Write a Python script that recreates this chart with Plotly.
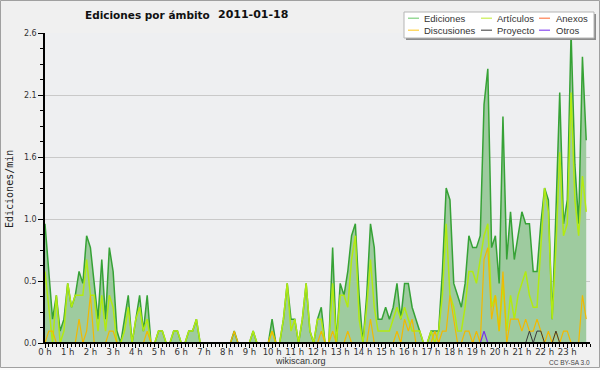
import plotly.graph_objects as go

# ---- data (10-minute steps, edits per minute) ----
minutes = list(range(0, 1440, 10))
hours = [m / 60 for m in minutes]

ediciones = [
    1.0, 0.6, 0.2, 0.4, 0.1, 0.2,   # 0 h
    0.5, 0.3, 0.4, 0.6, 0.5, 0.9,   # 1 h
    0.8, 0.5, 0.2, 0.7, 0.2, 0.8,   # 2 h
    0.6, 0.1, 0.0, 0.2, 0.4, 0.0,   # 3 h
    0.2, 0.4, 0.1, 0.4, 0.0, 0.0,   # 4 h
    0.1, 0.1, 0.0, 0.0, 0.1, 0.1,   # 5 h
    0.0, 0.0, 0.1, 0.1, 0.2, 0.0,   # 6 h
    0.0, 0.0, 0.0, 0.0, 0.0, 0.0,   # 7 h
    0.0, 0.0, 0.1, 0.0, 0.0, 0.0,   # 8 h
    0.0, 0.1, 0.0, 0.0, 0.0, 0.0,   # 9 h
    0.2, 0.0, 0.0, 0.2, 0.5, 0.2,   # 10 h
    0.2, 0.0, 0.2, 0.5, 0.1, 0.0,   # 11 h
    0.2, 0.3, 0.0, 0.0, 0.8, 0.0,   # 12 h
    0.5, 0.4, 0.6, 0.9, 1.0, 0.4,   # 13 h
    0.0, 0.4, 1.0, 0.8, 0.2, 0.2,   # 14 h
    0.3, 0.2, 0.3, 0.5, 0.2, 0.5,   # 15 h
    0.5, 0.3, 0.2, 0.1, 0.0, 0.0,   # 16 h
    0.1, 0.1, 0.1, 0.6, 1.3, 1.2,   # 17 h
    0.5, 0.4, 0.3, 0.5, 0.9, 0.8,   # 18 h
    0.8, 0.9, 2.0, 2.3, 0.8, 0.9,   # 19 h
    0.5, 1.9, 0.7, 1.1, 0.7, 0.9,   # 20 h
    1.1, 1.0, 1.0, 0.6, 0.6, 1.0,   # 21 h
    1.3, 1.2, 0.2, 1.1, 2.1, 1.0,   # 22 h
    1.2, 2.6, 1.5, 1.0, 2.4, 1.7,   # 23 h
]

articulos = [
    0.6, 0.3, 0.0, 0.4, 0.0, 0.1,
    0.5, 0.3, 0.4, 0.4, 0.4, 0.7,
    0.4, 0.4, 0.1, 0.4, 0.1, 0.4,
    0.3, 0.0, 0.0, 0.1, 0.3, 0.0,
    0.2, 0.3, 0.1, 0.2, 0.0, 0.0,
    0.1, 0.1, 0.0, 0.0, 0.1, 0.1,
    0.0, 0.0, 0.1, 0.1, 0.2, 0.0,
    0.0, 0.0, 0.0, 0.0, 0.0, 0.0,
    0.0, 0.0, 0.0, 0.0, 0.0, 0.0,
    0.0, 0.1, 0.0, 0.0, 0.0, 0.0,
    0.1, 0.0, 0.0, 0.2, 0.5, 0.1,
    0.2, 0.0, 0.2, 0.5, 0.1, 0.0,
    0.2, 0.2, 0.0, 0.0, 0.5, 0.0,
    0.4, 0.4, 0.3, 0.7, 0.9, 0.2,
    0.0, 0.3, 0.7, 0.3, 0.1, 0.1,
    0.1, 0.1, 0.2, 0.3, 0.2, 0.3,
    0.2, 0.1, 0.1, 0.1, 0.0, 0.0,
    0.1, 0.0, 0.1, 0.4, 1.0, 0.4,
    0.3, 0.1, 0.1, 0.3, 0.6, 0.6,
    0.5, 0.7, 0.9, 1.0, 0.3, 0.4,
    0.1, 0.5, 0.1, 0.4, 0.2, 0.4,
    0.5, 0.6, 0.4, 0.3, 0.3, 0.8,
    1.3, 1.1, 0.2, 0.8, 1.6, 0.9,
    1.0, 2.1, 1.2, 0.9, 1.4, 1.1,
]

anexos = [0.0] * 144

discusiones = [
    0.0, 0.1, 0.1, 0.0, 0.0, 0.0,
    0.0, 0.0, 0.0, 0.2, 0.0, 0.1,
    0.4, 0.0, 0.0, 0.0, 0.0, 0.1,
    0.1, 0.0, 0.0, 0.0, 0.0, 0.0,
    0.0, 0.0, 0.0, 0.1, 0.0, 0.0,
    0.0, 0.0, 0.0, 0.0, 0.0, 0.0,
    0.0, 0.0, 0.0, 0.0, 0.0, 0.0,
    0.0, 0.0, 0.0, 0.0, 0.0, 0.0,
    0.0, 0.0, 0.1, 0.0, 0.0, 0.0,
    0.0, 0.0, 0.0, 0.0, 0.0, 0.0,
    0.1, 0.0, 0.0, 0.0, 0.0, 0.0,
    0.0, 0.0, 0.0, 0.0, 0.0, 0.0,
    0.0, 0.1, 0.0, 0.0, 0.1, 0.0,
    0.0, 0.0, 0.1, 0.0, 0.0, 0.0,
    0.0, 0.0, 0.2, 0.0, 0.0, 0.0,
    0.0, 0.0, 0.0, 0.1, 0.0, 0.2,
    0.1, 0.2, 0.0, 0.0, 0.0, 0.0,
    0.0, 0.1, 0.0, 0.1, 0.1, 0.4,
    0.2, 0.0, 0.0, 0.1, 0.1, 0.0,
    0.1, 0.0, 0.7, 0.8, 0.2, 0.4,
    0.1, 0.6, 0.0, 0.2, 0.2, 0.2,
    0.1, 0.2, 0.1, 0.1, 0.2, 0.1,
    0.0, 0.1, 0.0, 0.1, 0.0, 0.1,
    0.1, 0.0, 0.0, 0.0, 0.4, 0.2,
]

proyecto = [0.0] * 144
for idx in (128, 130, 131, 135):
    proyecto[idx] = 0.1

otros = [0.0] * 144
otros[116] = 0.1

hour_ticks = list(range(24))
hour_labels = ["0 h", "1 h", "2 h", "3 h", "4 h", "5 h", "6 h", "7 h", "8 h", "9 h",
               "10 h", "11 h", "12 h", "13 h", "14 h", "15 h", "16 h", "17 h",
               "18 h", "19 h", "20 h", "21 h", "22 h", "23 h"]
y_ticks = [0, 0.52, 1.04, 1.56, 2.08, 2.6]
y_labels = ["0.0", "0.5", "1.0", "1.6", "2.1", "2.6"]

series = [
    ("Ediciones", ediciones, "#36a236", 1.5, "#7fd07f"),
    ("Artículos", articulos, "#b2ea12", 1.5, "#c8ee50"),
    ("Anexos", anexos, "#ff7f40", 1.2, "#ff7f50"),
    ("Discusiones", discusiones, "#f2b900", 1.2, "#ffd040"),
    ("Proyecto", proyecto, "#3a3a3a", 1.0, "#555555"),
    ("Otros", otros, "#7a30e8", 1.2, "#8a4af0"),
]

# ---- figure ----
L, R, T, B = 45, 10, 33, 27
W, H = 600, 370
PW, PH = W - L - R, H - T - B


def px(x):
    return (x - L) / PW


def py(y):
    return (H - B - y) / PH


fig = go.Figure()
for i, (name, vals, col, lw, _) in enumerate(series):
    kw = {}
    if i == 0:
        kw = dict(fill="tozeroy", fillcolor="#9ecb9f")
    fig.add_trace(go.Scatter(x=hours, y=vals, mode="lines", name=name,
                             line=dict(color=col, width=lw), showlegend=False,
                             hoverinfo="skip", **kw))

fig.update_layout(
    width=W, height=H, autosize=False,
    margin=dict(l=L, r=R, t=T, b=B, pad=0),
    paper_bgcolor="#f0f0f0", plot_bgcolor="#eeeff1",
    xaxis=dict(range=[0, 24], tickmode="array", tickvals=hour_ticks, ticktext=hour_labels,
               ticks="outside", ticklen=4, tickcolor="black", tickwidth=1,
               showline=True, linecolor="black", linewidth=1, ticklabelstandoff=-3,
               showgrid=False, zeroline=False,
               tickfont=dict(family="DejaVu Sans", size=8.5, color="#333"),
               minor=dict(tickmode="linear", tick0=0, dtick=1 / 6, ticks="outside",
                          ticklen=3, tickcolor="black", showgrid=False)),
    yaxis=dict(range=[0, 2.6], tickmode="array", tickvals=y_ticks, ticktext=y_labels,
               ticks="outside", ticklen=5, tickcolor="black", tickwidth=1,
               showline=True, linecolor="black", linewidth=1.5,
               showgrid=True, gridcolor="#c9c9c9", gridwidth=1, zeroline=False,
               tickfont=dict(family="DejaVu Sans", size=8, color="#333"),
               minor=dict(tickmode="linear", tick0=0, dtick=0.13, ticks="outside",
                          ticklen=3, tickcolor="black", showgrid=False)),
)

shapes = []
# thick baseline
shapes.append(dict(type="line", xref="paper", yref="paper", x0=0, x1=1, y0=0, y1=0,
                   line=dict(color="black", width=2)))
# outer border + bottom strip
shapes.append(dict(type="rect", xref="paper", yref="paper", x0=px(0), x1=px(600),
                   y0=py(368), y1=py(370), fillcolor="#fafafa", line=dict(width=0)))
shapes.append(dict(type="rect", xref="paper", yref="paper", x0=px(0.5), x1=px(599.5),
                   y0=py(0.5), y1=py(367.5), line=dict(color="#a0a0a0", width=1)))
# legend box with shadow
shapes.append(dict(type="rect", xref="paper", yref="paper", x0=px(406), x1=px(596),
                   y0=py(14), y1=py(40), fillcolor="#8c8c8c", line=dict(width=0)))
shapes.append(dict(type="rect", xref="paper", yref="paper", x0=px(404), x1=px(594),
                   y0=py(12), y1=py(38), fillcolor="white", line=dict(color="#b5b5b5", width=1)))

annotations = []
legend_pos = [(408, 423, 18.2), (481, 496, 18.2), (539, 555, 18.2),
              (408, 423, 30.2), (481, 496, 30.2), (539, 555, 30.2)]
for (name, _, _, _, swatch), (sx, tx, ly) in zip(series, legend_pos):
    shapes.append(dict(type="line", xref="paper", yref="paper", x0=px(sx), x1=px(sx + 11),
                       y0=py(ly), y1=py(ly), line=dict(color=swatch, width=1.2)))
    annotations.append(dict(text=name, xref="paper", yref="paper", x=px(tx), y=py(ly),
                            xanchor="left", yanchor="middle", showarrow=False,
                            borderpad=0, font=dict(family="Liberation Sans", size=9.5, color="#333")))

annotations += [
    dict(text="<b>Ediciones por ámbito</b>", xref="paper", yref="paper", x=px(84), y=py(15),
         xanchor="left", yanchor="middle", showarrow=False, borderpad=0,
         font=dict(family="DejaVu Sans", size=10.5, color="#111")),
    dict(text="<b>2011-01-18</b>", xref="paper", yref="paper", x=px(217), y=py(15),
         xanchor="left", yanchor="middle", showarrow=False, borderpad=0,
         font=dict(family="DejaVu Sans", size=11, color="#111")),
    dict(text="Ediciones/min", xref="paper", yref="paper", x=px(10), y=py(189),
         xanchor="center", yanchor="middle", textangle=-90, showarrow=False, borderpad=0,
         font=dict(family="DejaVu Sans Mono", size=10, color="#222")),
    dict(text="wikiscan.org", xref="paper", yref="paper", x=px(300), y=py(361),
         xanchor="center", yanchor="middle", showarrow=False, borderpad=0,
         font=dict(family="Liberation Sans", size=9, color="#333")),
    dict(text="CC BY-SA 3.0", xref="paper", yref="paper", x=px(591), y=py(362),
         xanchor="right", yanchor="middle", showarrow=False, borderpad=0,
         font=dict(family="Liberation Sans", size=6.5, color="#444")),
]

fig.update_layout(shapes=shapes, annotations=annotations)
fig.write_html("out.html", config={"displayModeBar": False},
               post_script="document.body.style.margin='0px';")
